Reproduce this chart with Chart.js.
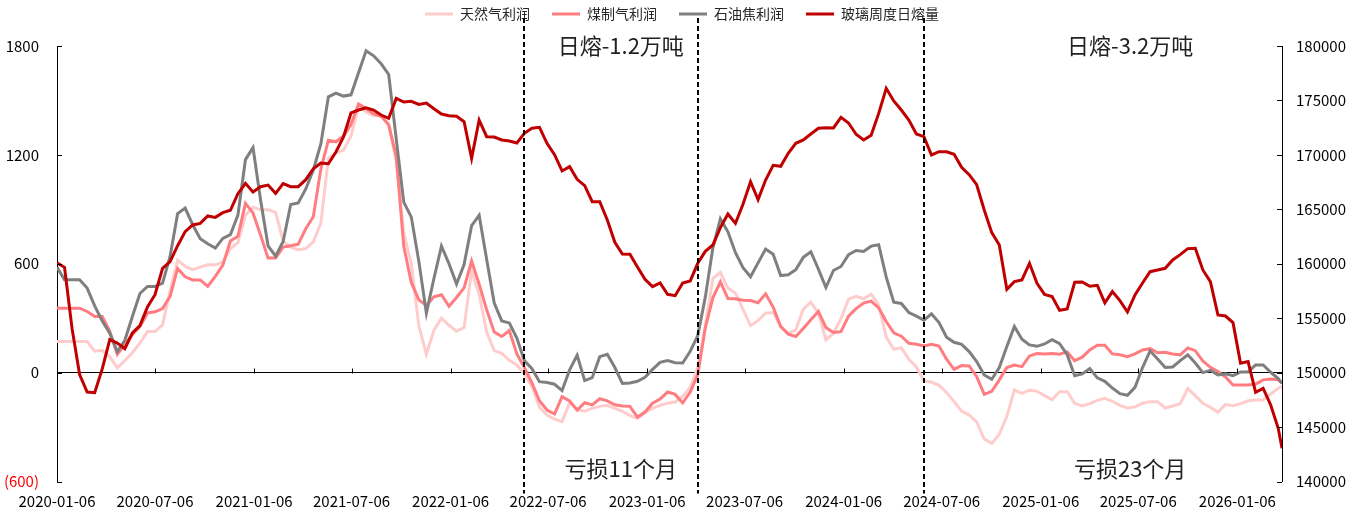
<!DOCTYPE html>
<html>
<head>
<meta charset="utf-8">
<title>玻璃日熔与燃料利润</title>
<script src="https://cdn.jsdelivr.net/npm/chart.js@4.4.1/dist/chart.umd.min.js"></script>
<style>
  html, body { margin: 0; padding: 0; background: #fff; }
  #wrap { width: 1364px; height: 516px; position: relative; }
</style>
</head>
<body>
<div id="wrap"><canvas id="glassChart"></canvas></div>
<script>
// fortnightly samples starting 2020-01-06, last one is the latest week
const startDate = '2020-01-06';
const sampleDays = Array.from({ length: 163 }, (_, i) => i * 14).concat([2275]);

// 天然气利润 (元/吨)
const gasProfit = [
  171, 171, 171, 171, 171, 118, 123, 88, 26, 66, 110, 162, 226, 226, 263, 451, 620, 585, 567, 581,
  594, 594, 609, 683, 716, 867, 911, 898, 898, 883, 725, 692, 677,
  683, 721, 824, 1181, 1211, 1226, 1303, 1466, 1437, 1415, 1415, 1363, 1165, 769, 600, 258, 101, 233,
  300, 261, 228, 248, 561, 429, 223, 121, 107, 68, 42, -9, -77, -191, -234,
  -256, -270, -166, -204, -212, -197, -186, -180, -197, -213, -237, -252, -221, -197, -180, -169, -162,
  -131, -81, 26, 258, 519, 552, 466, 438, 348, 259, 287, 328, 331, 254, 217, 236,
  350, 388, 328, 180, 217, 298, 405, 420, 407, 432, 374, 195, 129, 138, 74, 31, -46, -52, -70, -109,
  -160, -212, -234, -272, -366, -390, -340, -241, -96, -114, -96, -103,
  -127, -149, -105, -105, -169, -184, -171, -153, -142, -158, -180, -195, -189, -169, -160, -160, -195,
  -184, -171, -88, -127, -169, -191, -219, -175, -182, -171, -155, -151, -151, -118, -86, -77
];

// 煤制气利润 (元/吨)
const coalGasProfit = [
  355, 355, 355, 355, 337, 309, 309, 228, 101, 155, 210, 254, 329, 335, 353, 420, 574, 528, 511, 511,
  475, 530, 592, 725, 751, 933, 880, 758, 631, 631, 692, 699, 708,
  793, 859, 1122, 1281, 1272, 1303, 1367, 1481, 1455, 1426, 1413, 1367, 1192, 696, 497, 401, 370, 418,
  429, 366, 414, 467, 615, 488, 346, 224, 199, 232, 103, 28, -57, -155, -206,
  -228, -132, -156, -206, -166, -178, -144, -156, -177, -184, -186, -245, -217, -169, -145, -107, -120,
  -167, -107, -11, 247, 412, 500, 408, 407, 399, 397, 385, 434, 361, 254, 212, 199,
  243, 291, 337, 248, 221, 226, 311, 353, 383, 394, 357, 282, 219, 201, 162, 156, 147, 156, 147, 74,
  18, 39, 37, -22, -120, -103, -40, 28, 42, 33, 92, 105,
  103, 105, 101, 114, 66, 85, 125, 151, 151, 103, 98, 88, 103, 125, 132, 109, 112, 103, 98, 136,
  121, 64, 29, 6, -24, -68, -68, -68, -63, -40, -35, -39, -59
];

// 石油焦利润 (元/吨)
const petcokeProfit = [
  580, 512, 512, 512, 466, 368, 285, 217, 116, 178, 309, 436, 475, 475, 493, 640, 876, 907, 815, 738,
  710, 686, 740, 760, 868, 1174, 1240, 953, 699, 642, 723, 927, 935,
  1012, 1117, 1260, 1520, 1540, 1524, 1531, 1652, 1774, 1746, 1702, 1643, 1288, 940, 857, 613, 328, 519,
  697, 600, 488, 596, 810, 867, 624, 383, 285, 274, 190, 66, 22, -50, -55,
  -64, -99, 15, 96, -44, -28, 88, 101, 28, -59, -57, -48, -26, 18, 57, 66, 55,
  53, 118, 204, 416, 686, 848, 776, 661, 578, 528, 605, 681, 653, 535, 539, 567,
  635, 666, 570, 469, 563, 585, 650, 673, 668, 697, 705, 526, 388, 381, 331, 311, 289, 324, 276, 195,
  167, 156, 116, 61, -13, -37, 28, 144, 254, 184, 153, 145,
  158, 182, 160, 99, -17, -7, 22, -29, -48, -85, -116, -125, -81, 28, 120, 75, 28,
  31, 66, 98, 53, 0, 13, -13, -7, -17, 4, 4, 42, 42, 2, -33, -59
];

// 玻璃周度日熔量 (吨/日)
const glassMelt = [
  160100, 159670, 154040, 149820, 148220, 148160, 150340, 153030, 152720, 152200, 153640, 154320,
  156030, 157160, 159580, 160190, 161660, 162950, 163560, 163710, 164390, 164260, 164690, 164910,
  166440, 167390, 166590, 167080, 167230, 166470, 167360, 167080, 167080,
  167720, 168730, 169250, 169190, 170260, 171640, 173850, 174120, 174330, 174120, 173660, 173360,
  175190, 174850, 174920, 174640, 174760, 174240, 173750, 173600, 173540, 173050, 169680, 173200,
  171670, 171640, 171370, 171270, 171090, 171980, 172440, 172530, 171060,
  170020, 168520, 168920, 167750, 167170, 165700, 165700, 164020, 161970, 160900, 160870, 159700,
  158570, 157900, 158230, 157190, 157070, 158230, 158420, 160040, 161140, 161720, 163320, 164570,
  163710, 165460, 167540, 165890, 167690, 169040, 168950, 170140, 171060,
  171370, 171920, 172440, 172500, 172470, 173450, 172930, 171890, 171370, 171800, 173810, 176110,
  174950, 174120, 173200, 171920, 171670, 169990, 170290, 170290, 170050, 168860, 168180, 167260,
  164940, 162860, 161720, 157650, 158360, 158510, 160040, 158200,
  157190, 156980, 155720, 155850, 158300, 158330, 157930, 158020, 156400, 157440, 156610, 155570,
  157130, 158230, 159270, 159430, 159580, 160350, 160840, 161390, 161420, 159430, 158360, 155300,
  155200, 154590, 150860, 151010, 148190, 148560, 147030, 144890, 143050
];

const tickDates = [
  '2020-01-06', '2020-07-06', '2021-01-06', '2021-07-06', '2022-01-06', '2022-07-06', '2023-01-06',
  '2023-07-06', '2024-01-06', '2024-07-06', '2025-01-06', '2025-07-06', '2026-01-06'
];

// 亏损阶段的起止
const phaseDates = ['2022-05-23', '2023-04-10', '2024-06-03'];
const phaseNotes = [
  { date: '2022-11-18', top: '日熔-1.2万吨', bottom: '亏损11个月' },
  { date: '2025-06-21', top: '日熔-3.2万吨', bottom: '亏损23个月' }
];

const dayOf = d => (Date.parse(d) - Date.parse(startDate)) / 86400000;
const toPoints = arr => arr.map((v, i) => ({ x: sampleDays[i], y: v }));

const FONT = "'Noto Sans CJK SC', 'Noto Sans', sans-serif";
Chart.defaults.font.family = FONT;
Chart.defaults.color = '#000';

// small inward tick marks, like the axis style of the source sheet
const innerTicks = {
  id: 'innerTicks',
  afterDraw(chart) {
    const { ctx, chartArea: a, scales: { x, y, y1 } } = chart;
    ctx.save();
    ctx.strokeStyle = '#000';
    ctx.lineWidth = 1;
    ctx.beginPath();
    y.ticks.forEach(t => {
      const py = Math.round(y.getPixelForValue(t.value)) + 0.5;
      ctx.moveTo(a.left, py); ctx.lineTo(a.left + 5, py);
    });
    y1.ticks.forEach(t => {
      const py = Math.round(y1.getPixelForValue(t.value)) + 0.5;
      ctx.moveTo(a.right, py); ctx.lineTo(a.right - 5, py);
    });
    const zero = Math.round(y.getPixelForValue(0)) + 0.5;
    x.ticks.forEach(t => {
      const px = Math.round(x.getPixelForValue(t.value)) + 0.5;
      ctx.moveTo(px, zero); ctx.lineTo(px, zero - 5);
    });
    ctx.stroke();
    ctx.restore();
  }
};

// dashed phase boundaries and the notes in each loss phase
const phaseMarks = {
  id: 'phaseMarks',
  afterDatasetsDraw(chart) {
    const { ctx, chartArea: a, scales: { x } } = chart;
    ctx.save();
    ctx.strokeStyle = '#000';
    ctx.lineWidth = 2;
    ctx.setLineDash([5, 3]);
    phaseDates.forEach(d => {
      const px = Math.round(x.getPixelForValue(dayOf(d)));
      ctx.beginPath();
      ctx.moveTo(px, a.top - 28);
      ctx.lineTo(px, a.bottom + 12);
      ctx.stroke();
    });
    ctx.setLineDash([]);
    ctx.fillStyle = '#222';
    ctx.font = '22px ' + FONT;
    ctx.textAlign = 'center';
    ctx.textBaseline = 'middle';
    phaseNotes.forEach(n => {
      const px = x.getPixelForValue(dayOf(n.date));
      ctx.fillText(n.top, px, a.top);
      ctx.fillText(n.bottom, px, a.bottom - 12.5);
    });
    ctx.restore();
  }
};

const lineSet = (label, data, color, order, axis) => ({
  label,
  data: toPoints(data),
  yAxisID: axis,
  borderColor: color,
  backgroundColor: color,
  borderWidth: 3,
  pointRadius: 0,
  pointStyle: 'line',
  tension: 0,
  fill: false,
  order
});

new Chart(document.getElementById('glassChart'), {
  type: 'line',
  data: {
    datasets: [
      lineSet('天然气利润', gasProfit, '#FFCCCC', 3, 'y'),
      lineSet('煤制气利润', coalGasProfit, '#FF7C80', 2, 'y'),
      lineSet('石油焦利润', petcokeProfit, '#7F7F7F', 1, 'y'),
      lineSet('玻璃周度日熔量', glassMelt, '#C00000', 0, 'y1')
    ]
  },
  options: {
    responsive: true,
    maintainAspectRatio: false,
    animation: false,
    events: [],
    layout: { padding: { top: -15, left: 0, right: 0, bottom: 0 } },
    plugins: {
      legend: {
        position: 'top',
        labels: {
          usePointStyle: true,
          pointStyleWidth: 28,
          padding: 22,
          color: '#262626',
          font: { size: 14 },
          sort: (a, b) => a.datasetIndex - b.datasetIndex
        }
      },
      // empty title only keeps the gap between legend and plot
      title: { display: true, text: '', padding: 0, weight: 100, font: { size: 15, lineHeight: 1 } },
      tooltip: { enabled: false }
    },
    scales: {
      x: {
        type: 'linear',
        min: 0,
        max: sampleDays[sampleDays.length - 1],
        afterBuildTicks: scale => { scale.ticks = tickDates.map(d => ({ value: dayOf(d) })); },
        afterFit: scale => { scale.height = 34.5; },
        grid: { display: false },
        border: { display: false },
        ticks: {
          autoSkip: false,
          maxRotation: 0,
          minRotation: 0,
          padding: 3,
          font: { size: 15 },
          callback: (v, i) => tickDates[i]
        }
      },
      y: {
        position: 'left',
        min: -600,
        max: 1800,
        afterFit: scale => { scale.width = 57; },
        grid: {
          drawTicks: false,
          color: c => (c.tick && c.tick.value === 0 ? '#000' : 'rgba(0,0,0,0)'),
          lineWidth: 1
        },
        border: { display: true, color: '#000', width: 1 },
        ticks: {
          stepSize: 600,
          padding: 18,
          font: { size: 15 },
          color: c => (c.tick.value < 0 ? '#FF0000' : '#000'),
          callback: v => (v < 0 ? '(' + Math.abs(v) + ')' : String(v))
        }
      },
      y1: {
        position: 'right',
        min: 140000,
        max: 180000,
        afterFit: scale => { scale.width = 82; },
        grid: { drawOnChartArea: false, drawTicks: false },
        border: { display: true, color: '#000', width: 1 },
        ticks: {
          stepSize: 5000,
          padding: 14,
          font: { size: 15 },
          callback: v => String(v)
        }
      }
    }
  },
  plugins: [innerTicks, phaseMarks]
});
</script>
</body>
</html>
